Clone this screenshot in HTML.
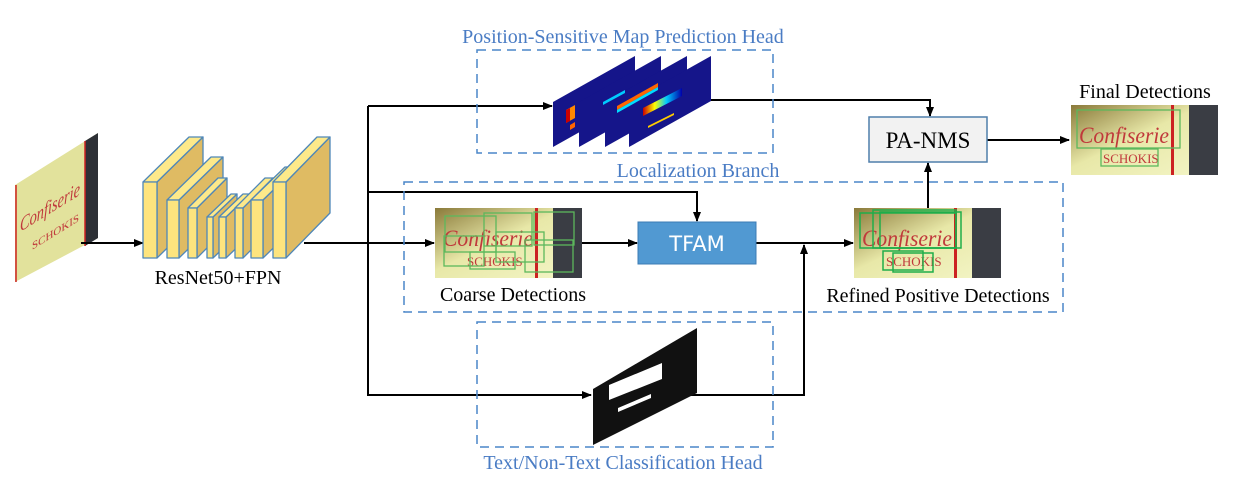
<!DOCTYPE html>
<html><head><meta charset="utf-8"><style>
html,body{margin:0;padding:0;background:#fff;}
svg{display:block;}
.s{font-family:"Liberation Serif",serif;}
</style></head><body>
<svg width="1235" height="477" viewBox="0 0 1235 477" xmlns="http://www.w3.org/2000/svg">
<defs>
<marker id="a" markerWidth="10" markerHeight="8" refX="9" refY="4" orient="auto" markerUnits="userSpaceOnUse"><path d="M0,0 L10,4 L0,8 Z" fill="#000"/></marker>
<linearGradient id="img" x1="0" y1="0" x2="1" y2="1"><stop offset="0" stop-color="#8a7a3a"/><stop offset="0.45" stop-color="#e8e8a8"/><stop offset="1" stop-color="#f4f6c8"/></linearGradient>
<linearGradient id="jet" x1="0" y1="0" x2="1" y2="0"><stop offset="0" stop-color="#c00"/><stop offset="0.3" stop-color="#ff0"/><stop offset="0.6" stop-color="#0cf"/><stop offset="1" stop-color="#00a"/></linearGradient>
<g id="pic">
<rect x="0" y="0" width="147" height="70" fill="url(#img)"/>
<rect x="100" y="0" width="3" height="70" fill="#c22"/>
<rect x="118" y="0" width="29" height="70" fill="#3a3d44"/>
<text x="8" y="38" font-family="Liberation Serif,serif" font-style="italic" font-size="23" fill="#c0393b" textLength="90" lengthAdjust="spacingAndGlyphs">Confiserie</text>
<text x="32" y="58" font-family="Liberation Serif,serif" font-size="13" fill="#c0393b">SCHOKIS</text>
</g>
</defs>

<!-- input image -->
<polygon points="15,185 98,133 98,238 15,282" fill="#e2e29c"/>
<polygon points="85,141 98,133 98,238 85,246" fill="#2d3036"/>
<line x1="85" y1="141" x2="85" y2="246" stroke="#c22" stroke-width="1.5"/>
<line x1="16" y1="185" x2="16" y2="282" stroke="#c22" stroke-width="1.5"/>
<text x="0" y="0" transform="matrix(1,-0.62,0,1,20,232)" font-family="Liberation Serif,serif" font-style="italic" font-size="20" fill="#c0393b" textLength="60" lengthAdjust="spacingAndGlyphs">Confiserie</text>
<text x="0" y="0" transform="matrix(1,-0.62,0,1,32,250)" font-family="Liberation Serif,serif" font-size="11" fill="#c0393b">SCHOKIS</text>
<line x1="81" y1="243" x2="143" y2="243" stroke="#000" stroke-width="2" marker-end="url(#a)"/>

<!-- ResNet blocks -->
<g stroke="#4f87b8" stroke-width="1.3" stroke-linejoin="round">
<polygon points="157,182 203,137 203,213 157,258" fill="#dfbb63"/><polygon points="143,182 189,137 203,137 157,182" fill="#fde98a"/><rect x="143" y="182" width="14" height="76" fill="#fde47e"/>
<polygon points="179,200 223,157 223,215 179,258" fill="#dfbb63"/><polygon points="167,200 211,157 223,157 179,200" fill="#fde98a"/><rect x="167" y="200" width="12" height="58" fill="#fde47e"/>
<polygon points="197,208 227,178 227,228 197,258" fill="#dfbb63"/><polygon points="188,208 218,178 227,178 197,208" fill="#fde98a"/><rect x="188" y="208" width="9" height="50" fill="#fde47e"/>
<polygon points="213,217 237,194 237,235 213,258" fill="#dfbb63"/><polygon points="207,217 231,194 237,194 213,217" fill="#fde98a"/><rect x="207" y="217" width="6" height="41" fill="#fde47e"/>
<polygon points="226,217 250,194 250,235 226,258" fill="#dfbb63"/><polygon points="219,217 243,194 250,194 226,217" fill="#fde98a"/><rect x="219" y="217" width="7" height="41" fill="#fde47e"/>
<polygon points="243,208 273,178 273,228 243,258" fill="#dfbb63"/><polygon points="235,208 265,178 273,178 243,208" fill="#fde98a"/><rect x="235" y="208" width="8" height="50" fill="#fde47e"/>
<polygon points="263,200 297,167 297,225 263,258" fill="#dfbb63"/><polygon points="251,200 285,167 297,167 263,200" fill="#fde98a"/><rect x="251" y="200" width="12" height="58" fill="#fde47e"/>
<polygon points="286,182 330,137 330,213 286,258" fill="#dfbb63"/><polygon points="273,182 317,137 330,137 286,182" fill="#fde98a"/><rect x="273" y="182" width="13" height="76" fill="#fde47e"/>
</g>
<text x="218" y="284" class="s" font-size="20" text-anchor="middle">ResNet50+FPN</text>

<!-- trunk lines -->
<g stroke="#000" stroke-width="2" fill="none">
<line x1="304" y1="243" x2="434" y2="243" marker-end="url(#a)"/>
<line x1="368" y1="106" x2="368" y2="396"/>
<line x1="368" y1="106" x2="552" y2="106" marker-end="url(#a)"/>
<polyline points="368,192 697,192 697,221" marker-end="url(#a)"/>
<line x1="368" y1="395" x2="591" y2="395" marker-end="url(#a)"/>
<polyline points="711,100 930,100 930,116" marker-end="url(#a)"/>
<line x1="987" y1="140" x2="1069" y2="140" marker-end="url(#a)"/>
<line x1="582" y1="243" x2="637" y2="243" marker-end="url(#a)"/>
<line x1="756" y1="243" x2="853" y2="243" marker-end="url(#a)"/>
<polyline points="683,395 804,395 804,245" marker-end="url(#a)"/>
<line x1="928" y1="208" x2="928" y2="163" marker-end="url(#a)"/>
</g>

<!-- dashed boxes -->
<g fill="none" stroke="#4a86c8" stroke-width="1.5" stroke-dasharray="9,6">
<rect x="477" y="50" width="296" height="103"/>
<rect x="404" y="182" width="659" height="130"/>
<rect x="477" y="322" width="296" height="125"/>
</g>
<g class="s" font-size="20" fill="#4a7cc4" text-anchor="middle">
<text x="623" y="43">Position-Sensitive Map Prediction Head</text>
<text x="698" y="177">Localization Branch</text>
<text x="623" y="469">Text/Non-Text Classification Head</text>
</g>

<!-- PS maps -->
<g>
<polygon points="553,102 635,56 635,101 553,147" fill="#15158a"/>
<polygon points="579,102 661,56 661,101 579,147" fill="#15158a"/>
<polygon points="605,102 687,56 687,101 605,147" fill="#15158a"/>
<polygon points="629,102 711,56 711,101 629,147" fill="#15158a"/>
<polygon points="566,110 575,105 575,118 566,123" fill="#f80"/>
<polygon points="566,110 570,108 570,121 566,123" fill="#c00"/>
<polygon points="570,125 575,122 575,127 570,130" fill="#f60"/>
<polygon points="603,102 625,90 625,93 603,105" fill="#0cf"/>
<polygon points="617,106 658,83 658,87 617,110" fill="#f60"/>
<polygon points="617,110 658,87 658,90 617,113" fill="#0df"/>
<polygon points="643,108 682,88 682,96 643,116" fill="url(#jet)"/>
<polygon points="648,126 674,113 674,115 648,128" fill="#fc0"/>
</g>

<!-- PA-NMS -->
<rect x="869" y="117" width="118" height="45" fill="#f2f2f2" stroke="#4f7fab" stroke-width="1.5"/>
<text x="928" y="148" class="s" font-size="23" text-anchor="middle">PA-NMS</text>

<!-- TFAM -->
<rect x="638" y="222" width="118" height="42" fill="#5199d2" stroke="#3c7cb4" stroke-width="1"/>
<text x="697" y="251" font-family="DejaVu Sans,sans-serif" font-size="21" fill="#fff" text-anchor="middle">TFAM</text>

<!-- images -->
<use href="#pic" x="435" y="208"/>
<g fill="none" stroke="#5cb85c" stroke-width="1.3">
<rect x="445" y="216" width="51" height="36"/><rect x="484" y="213" width="48" height="33"/><rect x="534" y="212" width="40" height="33"/>
<rect x="496" y="232" width="48" height="30"/><rect x="525" y="240" width="48" height="32"/><rect x="444" y="236" width="40" height="30"/><rect x="470" y="252" width="45" height="17"/>
</g>
<text x="513" y="301" class="s" font-size="20" text-anchor="middle">Coarse Detections</text>

<use href="#pic" x="854" y="208"/>
<g fill="none" stroke="#1fae4a" stroke-width="1.5">
<rect x="860" y="213" width="96" height="35"/><rect x="873" y="210" width="83" height="38"/><rect x="880" y="212" width="81" height="36"/>
<rect x="883" y="251" width="40" height="19"/><rect x="893" y="253" width="40" height="19"/>
</g>
<text x="938" y="302" class="s" font-size="20" text-anchor="middle">Refined Positive Detections</text>

<use href="#pic" x="1071" y="105"/>
<g fill="none" stroke="#5cb85c" stroke-width="1.3">
<rect x="1077" y="110" width="103" height="38"/><rect x="1101" y="149" width="57" height="17"/>
</g>
<text x="1145" y="98" class="s" font-size="20" text-anchor="middle">Final Detections</text>

<!-- mask -->
<polygon points="593,389 697,328 697,393 593,445" fill="#111"/>
<polygon points="609,385 662,363 662,379 609,400" fill="#fff"/>
<polygon points="618,408 651,394 651,398 618,412" fill="#fff"/>
</svg>
</body></html>
